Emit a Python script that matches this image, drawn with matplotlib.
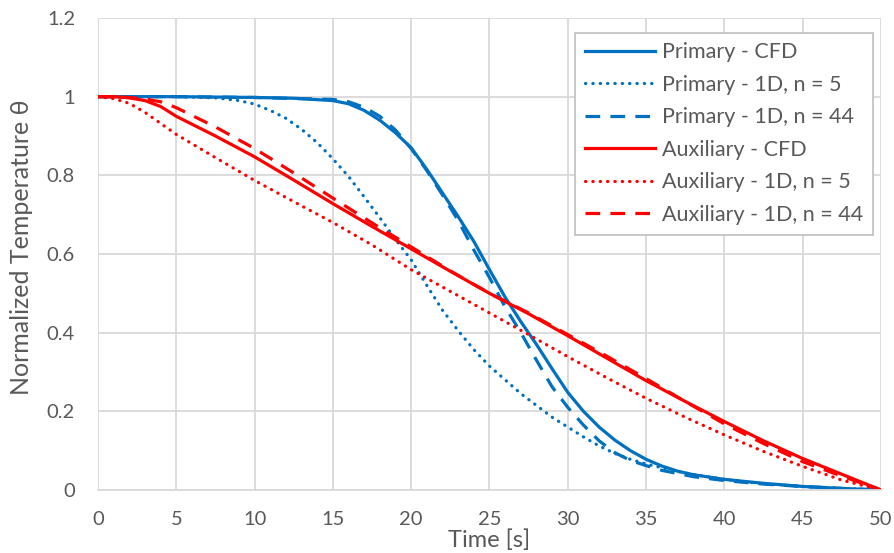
import matplotlib
matplotlib.use("Agg")
import matplotlib.pyplot as plt

# Primary side
t_prim_cfd = [0, 5, 10, 12.5, 15, 16, 17, 18, 19, 20, 21, 22, 23, 24, 25, 26, 27, 28, 29, 30,
              31, 32, 33, 34, 35, 36, 37, 38, 40, 42.5, 45, 47.5, 50]
prim_cfd = [1.0, 1.0, 0.998, 0.996, 0.99, 0.982, 0.965, 0.94, 0.908, 0.87, 0.815, 0.755, 0.695,
            0.632, 0.56, 0.49, 0.428, 0.37, 0.308, 0.248, 0.2, 0.16, 0.127, 0.1, 0.078, 0.061,
            0.048, 0.039, 0.027, 0.017, 0.009, 0.004, 0.0]

t_prim_n5 = [0, 5, 7.5, 9, 10, 11, 12, 13, 14, 15, 16, 17, 18, 19, 20, 21, 22, 23, 24, 25, 26,
             27, 28, 29, 30, 31, 32, 33, 34, 35, 37.5, 40, 42.5, 45, 47.5, 50]
prim_n5 = [1.0, 1.0, 0.997, 0.99, 0.981, 0.965, 0.945, 0.917, 0.883, 0.842, 0.797, 0.745, 0.692,
           0.637, 0.585, 0.52, 0.457, 0.405, 0.357, 0.315, 0.28, 0.245, 0.215, 0.185, 0.16, 0.135,
           0.112, 0.093, 0.078, 0.066, 0.043, 0.027, 0.016, 0.009, 0.004, 0.0]

t_prim_n44 = [0, 5, 10, 15, 16, 17, 18, 19, 20, 21, 22, 23, 24, 25, 26, 27, 28, 29, 30, 31, 32,
              33, 34, 35, 36, 38, 40, 42.5, 45, 47.5, 50]
prim_n44 = [1.0, 1.0, 0.998, 0.993, 0.987, 0.973, 0.95, 0.915, 0.868, 0.812, 0.75, 0.685, 0.61,
            0.54, 0.465, 0.40, 0.33, 0.262, 0.21, 0.165, 0.125, 0.095, 0.075, 0.062, 0.05, 0.034,
            0.024, 0.015, 0.009, 0.004, 0.0]

# Auxiliary side
t_aux = [0, 1, 2, 3, 4, 5, 7.5, 10, 12.5, 15, 17.5, 20, 22.5, 25, 27.5, 30, 32.5, 35, 37.5, 40,
         42.5, 45, 47.5, 50]
aux_cfd = [1.0, 1.0, 0.997, 0.99, 0.975, 0.95, 0.9, 0.847, 0.788, 0.728, 0.67, 0.613, 0.556,
           0.5, 0.448, 0.392, 0.335, 0.278, 0.225, 0.174, 0.125, 0.08, 0.04, 0.0]
aux_n5 = [1.0, 0.995, 0.983, 0.96, 0.932, 0.904, 0.845, 0.787, 0.733, 0.68, 0.623, 0.56, 0.505,
          0.45, 0.395, 0.339, 0.285, 0.233, 0.185, 0.14, 0.098, 0.06, 0.025, 0.0]
aux_n44 = [1.0, 1.0, 0.998, 0.994, 0.987, 0.972, 0.923, 0.868, 0.806, 0.742, 0.679, 0.618, 0.557,
           0.5, 0.45, 0.395, 0.34, 0.283, 0.225, 0.168, 0.118, 0.072, 0.035, 0.0]

x_ticks = [0, 5, 10, 15, 20, 25, 30, 35, 40, 45, 50]
y_ticks = [0, 0.2, 0.4, 0.6, 0.8, 1.0, 1.2]
y_tick_labels = ["0", "0.2", "0.4", "0.6", "0.8", "1", "1.2"]

BLUE = "#0070C0"
RED = "#FF0000"
GREY_TEXT = "#595959"
GRID = "#D9D9D9"

plt.rcParams["font.family"] = ["Lato", "DejaVu Sans"]

fig = plt.figure(figsize=(8.95, 5.53), dpi=100)
ax = fig.add_axes([98 / 895, 1 - 490 / 553, 783 / 895, 472 / 553])

lw = 2.3
dot = (0, (0.1, 2.2))
dash = (0, (4.6, 3.2))

ax.plot(t_prim_cfd, prim_cfd, color=BLUE, lw=lw, label="Primary - CFD")
ax.plot(t_prim_n5, prim_n5, color=BLUE, lw=lw, linestyle=dot, dash_capstyle="round",
        label="Primary - 1D, n = 5")
ax.plot(t_prim_n44, prim_n44, color=BLUE, lw=lw, linestyle=dash, label="Primary - 1D, n = 44")
ax.plot(t_aux, aux_cfd, color=RED, lw=lw, label="Auxiliary - CFD")
ax.plot(t_aux, aux_n5, color=RED, lw=lw, linestyle=dot, dash_capstyle="round",
        label="Auxiliary - 1D, n = 5")
ax.plot(t_aux, aux_n44, color=RED, lw=lw, linestyle=dash, label="Auxiliary - 1D, n = 44")

ax.set_xlim(0, 50)
ax.set_ylim(0, 1.2)
ax.set_xticks(x_ticks)
ax.set_yticks(y_ticks)
ax.set_yticklabels(y_tick_labels)
ax.grid(True, color=GRID, lw=1.3)
ax.set_axisbelow(True)
for side in ["top", "right", "left"]:
    ax.spines[side].set_visible(False)
ax.spines["bottom"].set_color(GRID)
ax.spines["bottom"].set_linewidth(1.3)
ax.tick_params(length=0, labelsize=14.5, labelcolor=GREY_TEXT)
ax.tick_params(axis="x", pad=15)
ax.tick_params(axis="y", pad=16.5)

ax.set_xlabel("Time [s]", fontsize=17, color=GREY_TEXT, va="center")
ax.xaxis.set_label_coords(0.5, -0.106)
ax.set_ylabel("Normalized Temperature θ", fontsize=18, color=GREY_TEXT, va="center")
ax.yaxis.set_label_coords(-0.098, 0.514)

leg = ax.legend(loc="upper right", bbox_to_anchor=(775 / 783, 457.3 / 472), fontsize=15.5,
                frameon=True, fancybox=False, edgecolor="#BFBFBF", framealpha=1,
                borderaxespad=0, handlelength=3.25, labelspacing=0.58, handletextpad=0.33,
                borderpad=0.45)
leg.get_frame().set_linewidth(1.2)
for txt in leg.get_texts():
    txt.set_color(GREY_TEXT)

fig.savefig("out.png", dpi=100)
